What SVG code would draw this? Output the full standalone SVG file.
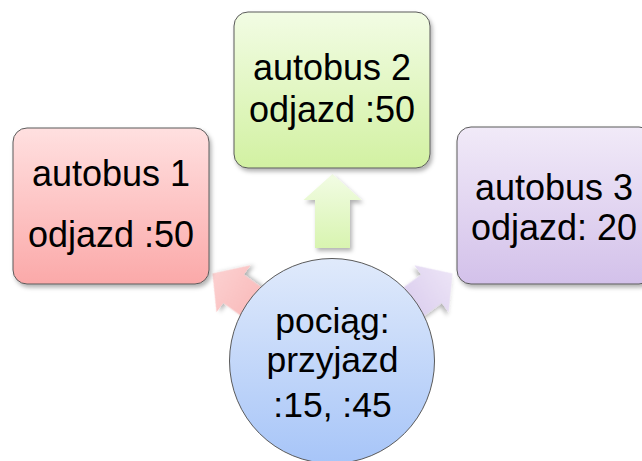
<svg xmlns="http://www.w3.org/2000/svg" width="642" height="461" viewBox="0 0 642 461">
  <defs>
    <linearGradient id="gRed" x1="0" y1="0" x2="0" y2="1">
      <stop offset="0" stop-color="#ffe0e0"/>
      <stop offset="1" stop-color="#fba9a9"/>
    </linearGradient>
    <linearGradient id="gGreen" x1="0" y1="0" x2="0" y2="1">
      <stop offset="0" stop-color="#f2fce4"/>
      <stop offset="1" stop-color="#d2f1a2"/>
    </linearGradient>
    <linearGradient id="gPurple" x1="0" y1="0" x2="0" y2="1">
      <stop offset="0" stop-color="#f1eaf8"/>
      <stop offset="1" stop-color="#d3c1ea"/>
    </linearGradient>
    <linearGradient id="gBlue" x1="0" y1="0" x2="0" y2="1">
      <stop offset="0" stop-color="#e0eafb"/>
      <stop offset="1" stop-color="#a7c5f8"/>
    </linearGradient>
    <linearGradient id="aRed" x1="0" y1="0" x2="0" y2="1">
      <stop offset="0" stop-color="#fcd0d0"/>
      <stop offset="1" stop-color="#f8b4b4"/>
    </linearGradient>
    <linearGradient id="aGreen" x1="0" y1="0" x2="0" y2="1">
      <stop offset="0" stop-color="#f2fce4"/>
      <stop offset="1" stop-color="#d8f4b0"/>
    </linearGradient>
    <linearGradient id="aPurple" x1="0" y1="0" x2="0" y2="1">
      <stop offset="0" stop-color="#ece4f6"/>
      <stop offset="1" stop-color="#d6c7ec"/>
    </linearGradient>
    <filter id="sh" x="-10%" y="-10%" width="130%" height="130%">
      <feDropShadow dx="2" dy="3" stdDeviation="2" flood-color="#000" flood-opacity="0.3"/>
    </filter>
    <path id="arr" d="M0 0 L29 26 L17.5 26 L17.5 74 L-17.5 74 L-17.5 26 L-29 26 Z"/>
  </defs>
  <style>
    .box { stroke: #5a5a5a; stroke-width: 1; filter: url(#sh); }
    .t { font-family: "Liberation Sans", Arial, sans-serif; font-size: 36px; fill: #000; text-anchor: middle; }
    .tc { font-size: 35.5px; }
    .arrow { filter: url(#sh); }
  </style>
  <rect width="642" height="461" fill="#ffffff"/>

  <g id="connectors">
    <use href="#arr" class="arrow" fill="url(#aGreen)" transform="translate(332.5,174)"/>
    <use href="#arr" class="arrow" fill="url(#aRed)" transform="translate(212.5,273.5) rotate(-54)"/>
    <use href="#arr" class="arrow" fill="url(#aPurple)" transform="translate(452.5,273.5) rotate(54)"/>
  </g>

  <g id="node-autobus1">
    <rect class="box" x="13" y="128" width="196" height="156" rx="14" fill="url(#gRed)"/>
    <text class="t" x="111" y="186">autobus 1</text>
    <text class="t" x="111" y="247">odjazd :50</text>
  </g>

  <g id="node-autobus2">
    <rect class="box" x="234" y="12" width="196" height="156" rx="14" fill="url(#gGreen)"/>
    <text class="t" x="332" y="80">autobus 2</text>
    <text class="t" x="332" y="122">odjazd :50</text>
  </g>

  <g id="node-autobus3">
    <rect class="box" x="457" y="127" width="196" height="157" rx="14" fill="url(#gPurple)"/>
    <text class="t" x="554" y="199.5">autobus 3</text>
    <text class="t" x="554" y="240">odjazd: 20</text>
  </g>

  <g id="node-pociag">
    <circle cx="332" cy="361" r="102.5" fill="url(#gBlue)" stroke="#5a5a5a" stroke-width="1"/>
    <text class="t tc" x="332.5" y="333">pociąg:</text>
    <text class="t tc" x="332.5" y="372">przyjazd</text>
    <text class="t tc" x="332.5" y="417">:15, :45</text>
  </g>
</svg>
